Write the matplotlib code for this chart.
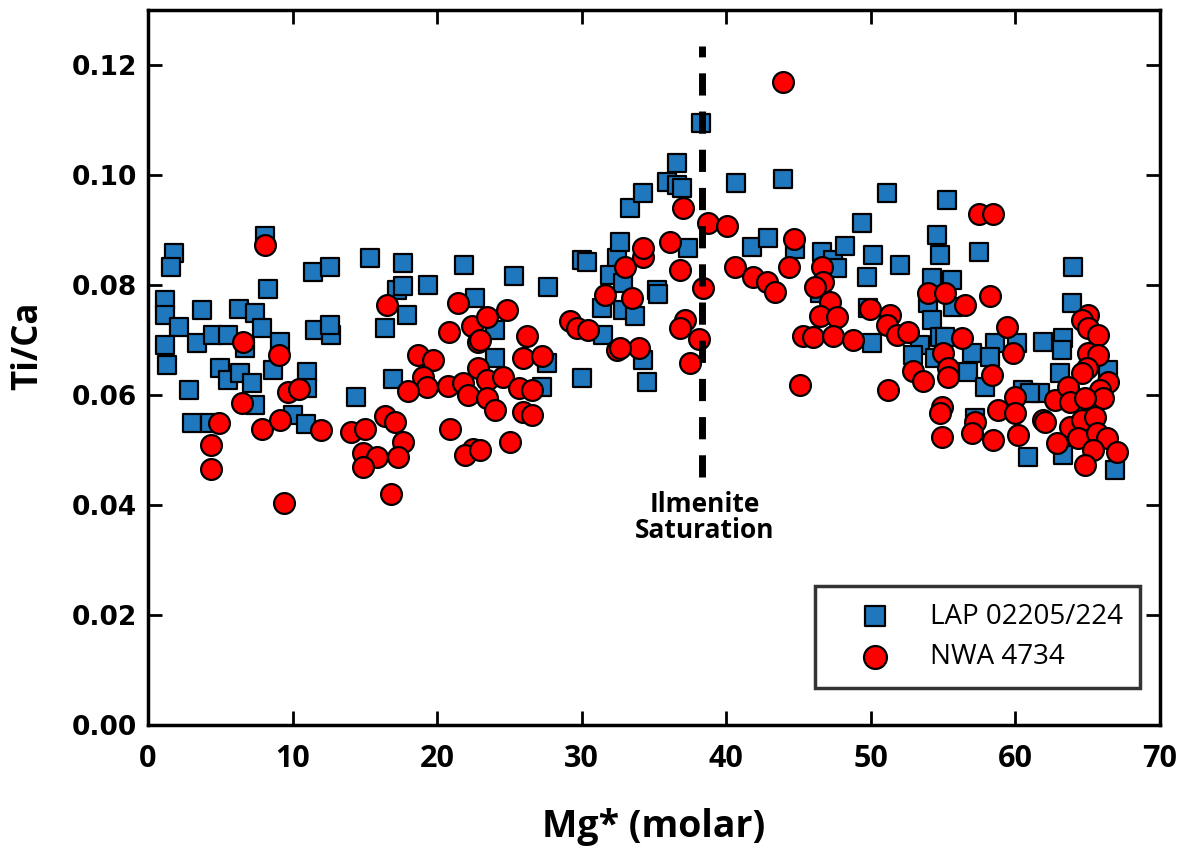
import numpy as np
import matplotlib
matplotlib.use("Agg")
import matplotlib.pyplot as plt

# %%
# Data
lap_mg = [1.18, 1.18, 1.80, 1.59, 2.14, 1.18, 1.31, 2.84, 3.04, 4.29,
          3.74, 3.39, 4.50, 5.53, 6.29, 7.40, 7.89, 8.30, 8.09, 6.71,
          9.13, 4.98, 5.53, 6.36, 7.19, 8.65, 7.40, 10.03, 10.93, 11.00,
          11.00, 11.41, 11.55, 12.59, 12.66, 12.59, 15.36, 17.64, 21.86, 17.22,
          17.64, 19.37, 17.92, 16.39, 22.62, 16.95, 14.39, 25.32, 27.67, 24.00,
          24.00, 27.60, 27.25, 30.02, 30.37, 30.02, 31.40, 31.47, 32.44, 32.65,
          31.96, 32.86, 32.86, 33.69, 34.24, 34.52, 33.34, 34.24, 35.90, 36.59,
          36.59, 36.94, 38.25, 37.35, 35.21, 35.28, 40.67, 43.92, 41.78, 42.89,
          44.75, 46.62, 47.38, 47.66, 48.21, 49.39, 51.12, 50.15, 52.02, 49.73,
          46.48, 49.80, 50.08, 55.27, 54.58, 54.78, 54.23, 53.95, 54.23, 53.40,
          52.91, 54.44, 54.78, 57.48, 55.61, 55.68, 55.13, 57.00, 56.72, 58.59,
          58.24, 60.11, 57.90, 60.52, 61.70, 61.91, 63.29, 63.22, 63.08, 66.40,
          57.20, 60.87, 63.29, 66.89, 63.98, 63.91, 61.01]
lap_tica = [0.0773, 0.0745, 0.0858, 0.0833, 0.0724, 0.0691, 0.0655, 0.0609, 0.0549, 0.0549,
            0.0755, 0.0695, 0.0709, 0.0709, 0.0756, 0.0749, 0.0722, 0.0793, 0.0889, 0.0685,
            0.0696, 0.0649, 0.0627, 0.0640, 0.0622, 0.0645, 0.0582, 0.0564, 0.0547, 0.0642,
            0.0613, 0.0824, 0.0718, 0.0833, 0.0709, 0.0727, 0.0849, 0.0840, 0.0836, 0.0791,
            0.0798, 0.0800, 0.0745, 0.0722, 0.0776, 0.0629, 0.0596, 0.0816, 0.0796, 0.0718,
            0.0667, 0.0658, 0.0615, 0.0845, 0.0842, 0.0631, 0.0758, 0.0709, 0.0849, 0.0878,
            0.0818, 0.0804, 0.0755, 0.0744, 0.0664, 0.0624, 0.0940, 0.0967, 0.0987, 0.1022,
            0.0982, 0.0976, 0.1095, 0.0867, 0.0791, 0.0784, 0.0985, 0.0993, 0.0869, 0.0885,
            0.0865, 0.0860, 0.0845, 0.0831, 0.0871, 0.0913, 0.0967, 0.0855, 0.0836, 0.0815,
            0.0785, 0.0758, 0.0695, 0.0955, 0.0891, 0.0855, 0.0813, 0.0767, 0.0736, 0.0691,
            0.0673, 0.0667, 0.0705, 0.0860, 0.0809, 0.0760, 0.0705, 0.0676, 0.0642, 0.0695,
            0.0669, 0.0695, 0.0615, 0.0609, 0.0604, 0.0696, 0.0704, 0.0682, 0.0640, 0.0645,
            0.0558, 0.0487, 0.0491, 0.0464, 0.0833, 0.0767, 0.0604]

nwa_mg = [8.09, 6.57, 9.06, 9.68, 10.45, 6.50, 4.91, 7.89, 9.13, 4.36,
          4.36, 9.41, 11.97, 16.53, 21.44, 20.82, 22.41, 22.83, 23.45, 18.68,
          19.71, 19.02, 19.30, 17.98, 20.75, 21.79, 22.13, 22.83, 23.45, 23.45,
          14.04, 15.01, 16.39, 17.08, 17.64, 14.87, 15.84, 17.29, 14.87, 16.81,
          20.89, 22.48, 21.93, 24.83, 22.96, 26.22, 25.94, 27.25, 24.56, 25.66,
          26.56, 25.94, 26.56, 24.00, 22.96, 25.04, 29.19, 29.67, 30.44, 32.44,
          33.96, 31.61, 33.48, 32.99, 34.24, 34.24, 36.11, 36.80, 38.39, 37.01,
          38.73, 40.05, 37.15, 36.80, 38.11, 37.49, 32.65, 43.92, 44.68, 40.60,
          41.85, 42.82, 43.37, 44.34, 46.62, 46.69, 46.14, 47.17, 46.48, 47.66,
          45.31, 46.00, 47.38, 48.77, 49.94, 51.32, 51.12, 51.81, 52.57, 45.10,
          51.19, 52.92, 53.61, 53.95, 55.13, 54.99, 54.92, 54.78, 54.92, 57.48,
          58.45, 56.51, 58.24, 59.42, 56.30, 59.83, 55.34, 55.34, 58.38, 57.20,
          56.99, 58.45, 58.79, 59.97, 59.97, 60.18, 61.91, 62.74, 65.02, 64.60,
          65.02, 65.71, 65.02, 65.71, 64.95, 64.60, 66.40, 65.85, 66.06, 63.64,
          63.78, 64.81, 62.05, 63.78, 64.60, 65.50, 64.33, 65.64, 66.33, 62.88,
          65.36, 67.03, 64.81]
nwa_tica = [0.0873, 0.0696, 0.0673, 0.0605, 0.0611, 0.0585, 0.0549, 0.0538, 0.0555, 0.0509,
            0.0465, 0.0404, 0.0536, 0.0764, 0.0767, 0.0715, 0.0725, 0.0696, 0.0742, 0.0673,
            0.0664, 0.0633, 0.0615, 0.0607, 0.0616, 0.0622, 0.0600, 0.0649, 0.0627, 0.0595,
            0.0533, 0.0538, 0.0562, 0.0551, 0.0515, 0.0495, 0.0487, 0.0487, 0.0469, 0.0420,
            0.0538, 0.0502, 0.0491, 0.0755, 0.0700, 0.0707, 0.0667, 0.0671, 0.0633, 0.0613,
            0.0609, 0.0569, 0.0564, 0.0573, 0.0500, 0.0515, 0.0735, 0.0722, 0.0718, 0.0682,
            0.0685, 0.0782, 0.0776, 0.0833, 0.0851, 0.0867, 0.0878, 0.0827, 0.0795, 0.0940,
            0.0913, 0.0907, 0.0736, 0.0722, 0.0702, 0.0658, 0.0685, 0.1169, 0.0884, 0.0833,
            0.0815, 0.0805, 0.0787, 0.0833, 0.0833, 0.0806, 0.0796, 0.0769, 0.0744, 0.0742,
            0.0707, 0.0705, 0.0707, 0.0700, 0.0756, 0.0745, 0.0727, 0.0709, 0.0715, 0.0618,
            0.0609, 0.0644, 0.0625, 0.0785, 0.0785, 0.0676, 0.0578, 0.0567, 0.0524, 0.0929,
            0.0929, 0.0764, 0.0780, 0.0724, 0.0704, 0.0676, 0.0649, 0.0633, 0.0636, 0.0551,
            0.0531, 0.0518, 0.0573, 0.0596, 0.0567, 0.0527, 0.0555, 0.0591, 0.0745, 0.0736,
            0.0722, 0.0709, 0.0676, 0.0673, 0.0649, 0.0640, 0.0624, 0.0609, 0.0595, 0.0615,
            0.0587, 0.0595, 0.0551, 0.0542, 0.0555, 0.0560, 0.0522, 0.0531, 0.0522, 0.0513,
            0.0500, 0.0496, 0.0473]

# ilmenite saturation line
ilm_mg = 38.3
ilm_range = [0.045, 0.1235]

# %%
# Figure
fig = plt.figure(figsize=(11.99, 8.49), dpi=100)
ax = fig.add_axes([0.1234, 0.1461, 0.8441, 0.8421])

ax.scatter(lap_mg, lap_tica, marker='s', s=180, c='#1f78be', edgecolors='black',
           linewidths=1.6, zorder=3, label='LAP 02205/224')
ax.scatter(nwa_mg, nwa_tica, marker='o', s=225, c='#ff0000', edgecolors='black',
           linewidths=1.6, zorder=4, label='NWA 4734')

ax.plot([ilm_mg, ilm_mg], ilm_range, color='black', lw=5,
        dashes=(3.2, 2.3), zorder=5)
ax.text(ilm_mg + 0.2, 0.0425, 'Ilmenite\nSaturation', ha='center', va='top',
        fontsize=19, fontweight='bold', family='Open Sans', linespacing=0.95)

ax.set_xlim(0, 70)
ax.set_ylim(0, 0.13)
ax.set_xticks(np.arange(0, 71, 10))
ax.set_yticks(np.arange(0, 0.121, 0.02))
ax.set_yticklabels(['%.2f' % v for v in np.arange(0, 0.121, 0.02)],
                   family='DejaVu Sans', fontweight='bold', fontsize=19)
ax.set_xticklabels([str(v) for v in range(0, 71, 10)],
                   family='Open Sans', fontweight='bold', fontsize=22)

ax.tick_params(direction='in', length=10, width=2, top=True, right=True)
ax.tick_params(axis='x', pad=14)
ax.tick_params(axis='y', pad=8)
for sp in ax.spines.values():
    sp.set_linewidth(2.5)

ax.set_xlabel('Mg* (molar)', family='Open Sans', fontweight='bold',
              fontsize=27, labelpad=24)
ax.set_ylabel('Ti/Ca', family='Open Sans', fontweight='bold',
              fontsize=25, labelpad=16)
ax.yaxis.set_label_coords(-0.1, 0.53)

leg = ax.legend(loc='lower right', bbox_to_anchor=(0.98, 0.052), borderaxespad=0,
                frameon=True, fancybox=False, edgecolor='black',
                prop={'family': 'Open Sans', 'size': 20},
                handletextpad=0.45, borderpad=0.6, labelspacing=0.45,
                markerscale=1.1, handlelength=3.1)
leg.get_frame().set_linewidth(2.5)

fig.savefig('out.png', dpi=100)
